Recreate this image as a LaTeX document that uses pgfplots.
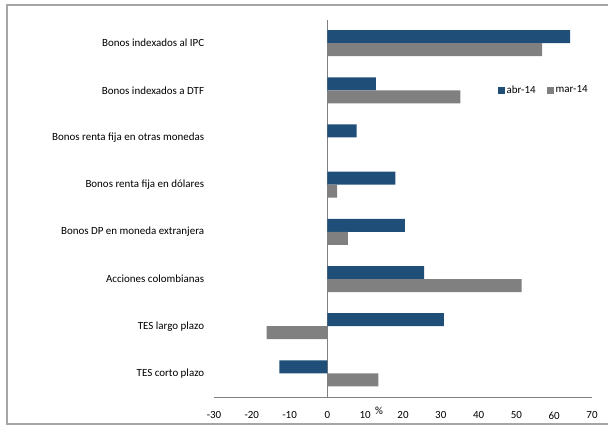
\documentclass[border=0pt]{standalone}
\usepackage{fontspec}
\setmainfont{Carlito}
\usepackage{pgfplots}
\pgfplotsset{compat=1.18}
\definecolor{abr}{RGB}{31,78,121}
\definecolor{mar}{RGB}{128,128,128}
\begin{document}
\fontsize{11}{13}\selectfont
\begin{tikzpicture}[x=1bp,y=1bp]
\useasboundingbox (0bp,0bp) rectangle (608bp,-427bp);
\draw[gray!70, line width=1.2bp] (609bp,-5bp) -- (7bp,-5bp) -- (7bp,-424bp) -- (609bp,-424bp);
\begin{axis}[at={(214bp,-397bp)}, anchor=south west, scale only axis,
  width=378bp, height=377.5bp,
  xmin=-30, xmax=70, ymin=-0.5, ymax=7.5,
  xbar, bar width=13bp,
  axis x line*=bottom, axis y line*=left,
  x axis line style={gray, line width=0.8bp, -},
  y axis line style={draw=none},
  xtick={-30,-20,...,70},
  ytick={0,...,7},
  yticklabels={TES corto plazo, TES largo plazo, Acciones colombianas, Bonos DP en moneda extranjera, Bonos renta fija en dólares, Bonos renta fija en otras monedas, Bonos indexados a DTF, Bonos indexados al IPC},
  major tick length=0pt, tick style={draw=none},
  yticklabel style={xshift=-6bp},
  xticklabel style={yshift=-11bp},
  /pgf/number format/assume math mode=true,
  ticklabel style={font=\fontsize{11}{13}\selectfont},
  extra x ticks={0}, extra x tick labels={},
  extra x tick style={grid=major, major grid style={gray, line width=0.8bp}},
  legend style={at={(0.75,0.813)}, anchor=west, draw=none, fill=none,
    legend columns=2, font=\fontsize{11}{13}\selectfont,
    /tikz/every even column/.append style={column sep=9bp},
    inner sep=0pt},
  legend cell align=left,
]
\addplot[fill=abr, draw=none, bar shift=6.5bp,
  legend image code/.code={\fill[abr] (0bp,-3.5bp) rectangle (7bp,3.5bp);}]
  coordinates {(-12.7,0) (30.8,1) (25.6,2) (20.5,3) (18.0,4) (7.7,5) (12.8,6) (64.2,7)};
\addplot[fill=mar, draw=none, bar shift=-6.5bp,
  legend image code/.code={\fill[mar] (0bp,-3.5bp) rectangle (7bp,3.5bp);}]
  coordinates {(13.5,0) (-16.1,1) (51.4,2) (5.4,3) (2.6,4) (0,5) (35.2,6) (56.8,7)};
\legend{abr-14, mar-14}
\end{axis}
\node at (379bp,-411bp) {\%};
\end{tikzpicture}
\end{document}
